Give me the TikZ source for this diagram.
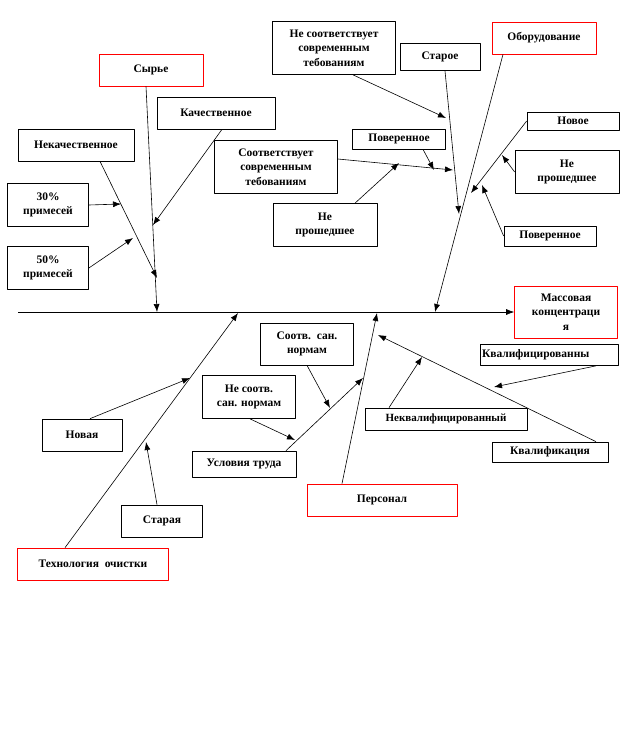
\documentclass[tikz,border=0pt]{standalone}
\usepackage{fontspec}
\setmainfont{Liberation Serif}
\usetikzlibrary{arrows.meta}
\definecolor{causered}{HTML}{FF0000}

\begin{document}
\begin{tikzpicture}[
  x=1pt,
  y=-1pt,
  line join=round,
  box/.style={draw=black,line width=0.7pt,inner sep=1pt,align=center,
    font=\fontsize{11.5}{14.5}\selectfont\bfseries},
  cause/.style={box,draw=causered},
  bone/.style={draw=black,line width=0.6pt,-{Latex[length=8pt,width=6pt]}}
]
  % Match the artwork frame.
  \useasboundingbox (0,0) rectangle (628,734);

  % Main causes (red frames) and the effect.
  \node[cause,minimum width=104,minimum height=32] (syrye) at (151,70) {Сырье};
  \node[cause,minimum width=104,minimum height=32] (equip) at (544,38) {Оборудование};
  \node[cause,minimum width=151,minimum height=32] (techn) at (93,564) {Технология\ \ очистки};
  \node[cause,minimum width=150,minimum height=32] (staff) at (382,500) {Персонал};
  \node[cause,minimum width=103,minimum height=52] (effect) at (566,312) {Массовая\\концентраци\\я};

  % Raw material branch.
  \node[box,minimum width=118,minimum height=32] (qual) at (216,113) {Качественное};
  \node[box,minimum width=116,minimum height=32] (nonqual) at (76,145) {Некачественное};
  \node[box,minimum width=81,minimum height=43] (imp30) at (48,205) {30\%\\примесей};
  \node[box,minimum width=81,minimum height=43] (imp50) at (48,268) {50\%\\примесей};

  % Equipment branch.
  \node[box,minimum width=123,minimum height=53] (oldreq) at (334,48) {Не соответствует\\современным\\тебованиям};
  \node[box,minimum width=80,minimum height=27] (old) at (440,57) {Старое};
  \node[box,minimum width=123,minimum height=53] (newreq) at (276,167) {Соответствует\\современным\\тебованиям};
  \node[box,minimum width=93,minimum height=20] (checkA) at (399,139) {Поверенное};
  \node[box,minimum width=104,minimum height=43] (uncheckA) at (325,225) {Не\\прошедшее};
  \node[box,minimum width=92,minimum height=18] (new) at (573,121) {Новое};
  \node[box,minimum width=104,minimum height=43] (uncheckB) at (567,172) {Не\\прошедшее};
  \node[box,minimum width=92,minimum height=20] (checkB) at (550,236) {Поверенное};

  % Cleaning technology branch.
  \node[box,minimum width=80,minimum height=32] (newtech) at (82,435) {Новая};
  \node[box,minimum width=81,minimum height=32] (oldtech) at (162,521) {Старая};

  % Staff branch.
  \node[box,minimum width=104,minimum height=26] (work) at (244,464) {Условия труда};
  \node[box,minimum width=93,minimum height=42] (sanok) at (307,344) {Соотв.\ \ сан.\\нормам};
  \node[box,minimum width=93,minimum height=43] (sanno) at (249,397) {Не соотв.\\сан. нормам};
  \node[box,minimum width=138,minimum height=21,text width=134,align=left] (skilled) at (549,355) {Квалифицированны};
  \node[box,minimum width=162,minimum height=22,font=\fontsize{11}{13}\selectfont\bfseries] (unskill) at (446,419) {Неквалифицированный};
  \node[box,minimum width=116,minimum height=20] (skill) at (550,452) {Квалификация};

  % Spine and where the bones meet it.
  \coordinate (tail) at (18,312);
  \coordinate (jsyrye) at (157,312);
  \coordinate (jequip) at (435,312);
  \coordinate (jtechn) at (238,313);
  \coordinate (jstaff) at (377,313);
  \draw[bone] (tail) -- (effect.west);

  % Bones of the main causes.
  \draw[bone] (syrye.south) ++(-5,0) -- (jsyrye);
  \draw[bone] (equip.south) ++(-41,0) -- (jequip);
  \draw[bone] (techn.north) ++(-28,0) -- (jtechn);
  \draw[bone] (staff.north) ++(-40,0) -- (jstaff);

  % Sub-causes: raw material.
  \coordinate (tqual) at (153,225);
  \coordinate (tnonq) at (157,278);
  \coordinate (t30) at (121,204);
  \coordinate (t50) at (133,238);
  \draw[bone] (qual.south) ++(6,0) -- (tqual);
  \draw[bone] (nonqual.south) ++(24,0) -- (tnonq);
  \draw[bone] (imp30.east) -- (t30);
  \draw[bone] (imp50.east) -- (t50);

  % Sub-causes: equipment.
  \coordinate (toldreq) at (446,118);
  \coordinate (told) at (459,214);
  \coordinate (tnewreq) at (453,170);
  \coordinate (tcheckA) at (434,170);
  \coordinate (tuncheckA) at (399,163);
  \coordinate (tnew) at (471,193);
  \coordinate (tuncheckB) at (502,155);
  \coordinate (tcheckB) at (482,185);
  \draw[bone] (oldreq.south) ++(19,0) -- (toldreq);
  \draw[bone] (old.south) ++(5,0) -- (told);
  \draw[bone] (newreq.east) ++(0,-8) -- (tnewreq);
  \draw[bone] (checkA.south) ++(24,0) -- (tcheckA);
  \draw[bone] (uncheckA.north) ++(30,0) -- (tuncheckA);
  \draw[bone] (new.west) -- (tnew);
  \draw[bone] (uncheckB.west) -- (tuncheckB);
  \draw[bone] (checkB.west) -- (tcheckB);

  % Sub-causes: cleaning technology.
  \coordinate (tnewtech) at (190,378);
  \coordinate (toldtech) at (146,442);
  \draw[bone] (newtech.north) ++(8,0) -- (tnewtech);
  \draw[bone] (oldtech.north) ++(-5,0) -- (toldtech);

  % Sub-causes: staff.
  \coordinate (twork) at (363,378);
  \coordinate (tsanok) at (330,408);
  \coordinate (tsanno) at (295,440);
  \coordinate (tskill) at (378,335);
  \coordinate (tunskill) at (422,357);
  \coordinate (tskilled) at (494,387);
  \draw[bone] (work.north) ++(42,0) -- (twork);
  \draw[bone] (sanok.south) -- (tsanok);
  \draw[bone] (sanno.south) ++(1,0) -- (tsanno);
  \draw[bone] (skill.north) ++(46,0) -- (tskill);
  \draw[bone] (unskill.north) ++(-57,0) -- (tunskill);
  \draw[bone] (skilled.south) ++(47,0) -- (tskilled);
\end{tikzpicture}
\end{document}
